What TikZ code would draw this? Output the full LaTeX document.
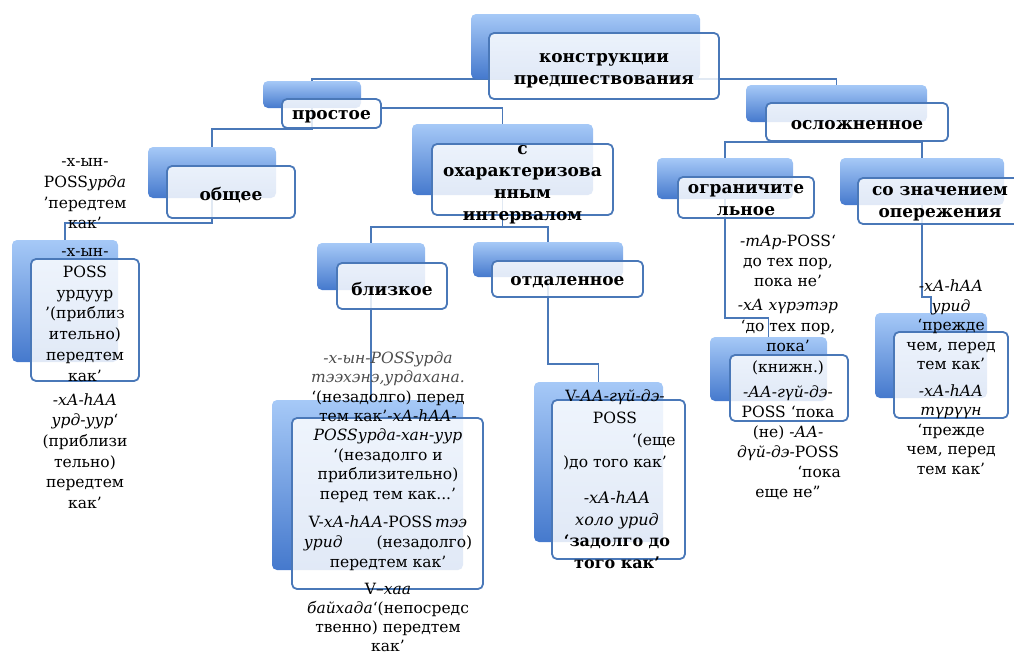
\documentclass[tikz,border=0pt]{standalone}
\usepackage{fontspec}
\setmainfont{DejaVu Serif}
\usetikzlibrary{calc}
\definecolor{boxtop}{HTML}{A6C9F7}
\definecolor{boxbot}{HTML}{4579CD}
\definecolor{boxline}{HTML}{4A78B8}
\pgfdeclarelayer{bg}
\pgfsetlayers{bg,main}
\tikzset{
 backbox/.style={rounded corners=5pt, top color=boxtop, bottom color=boxbot, draw=none, inner sep=0pt},
 frontbox/.style={rounded corners=5pt, draw=boxline, line width=1.8pt, fill=white, fill opacity=0.84, text opacity=1, inner sep=0pt},
 conn/.style={draw=boxline, line width=1.8pt},
 head/.style={font=\fontsize{17}{22}\selectfont\bfseries, align=center, inner sep=0pt, yshift=-3pt},
 note/.style={font=\fontsize{15.5}{20}\selectfont, align=center, inner sep=0pt},
}

\begin{document}
\begin{tikzpicture}[x=1pt,y=-1pt]
\useasboundingbox (0,0) rectangle (1014,653);

% back boxes
\foreach \n/\x/\y/\w/\h in {root/585.5/46.5/229/65, prost/312/94.5/98/27, osl/836.5/103.5/181/37,
 obsch/212/172.5/128/51, soh/502.5/159.5/181/71, org/725/178.5/136/41, znc/922/181.5/164/47,
 bliz/371/266.5/108/47, otd/548/259.5/150/35, obschc/65/301/106/122, blizc/367.5/485/191/170,
 otdc/598.5/462/129/160, orgc/768.5/369/117/64, zncc/931/355.5/112/85}{
\node[backbox, minimum width=\w pt, minimum height=\h pt] (b\n) at (\x,\y) {};}

% front boxes
\foreach \n/\x/\y/\w/\h in {root/604/66/230/66, prost/331.5/113.5/99/29, osl/857/122/182/38,
 obsch/231/192/128/52, soh/522.5/179.5/181/71, org/746/197.5/136/41, znc/940/201/164/46,
 bliz/392/286/110/46, otd/567.5/279/151/36, obschc/85/320/108/122, blizc/387.5/503.5/191/171,
 otdc/618.5/479.5/133/159, orgc/789/388/118/66, zncc/951/375/114/86}{
\node[frontbox, minimum width=\w pt, minimum height=\h pt] (f\n) at (\x,\y) {};}

% headings
\node[head, yshift=-2pt] (troot) at (froot) {конструкции\\предшествования};
\node[head] (tprost) at (fprost) {простое};
\node[head] (tosl) at (fosl) {осложненное};
\node[head] (tobsch) at (fobsch) {общее};
\node[head, yshift=-2pt] (tsoh) at (fsoh) {с\\охарактеризова\\нным\\интервалом};
\node[head] (torg) at (forg) {ограничите\\льное};
\node[head] (tznc) at (fznc) {со значением\\опережения};
\node[head] (tbliz) at (fbliz) {близкое};
\node[head] (totd) at (fotd) {отдаленное};

% texts
\node[note, font=\fontsize{15.5}{20.7}\selectfont] (nobsch) at (85,194) {-х-ын-\\POSS\textit{урда}\\'передтем\\как'};
\node[note, font=\fontsize{15.5}{20.7}\selectfont] (nobschc) at (85,315) {-х-ын-\\POSS\\урдуур\\'(приблиз\\ительно)\\передтем\\как'};
\node[note, font=\fontsize{15.5}{20.7}\selectfont] (nobschd) at (85,451) {\textit{-хА-һАА}\\\textit{урд-уур}‘\\(приблизи\\тельно)\\передтем\\как’};

\node[note, font=\fontsize{15.5}{19.4}\selectfont] (nbliza) at (388,427) {\textcolor{black!70}{\textit{-х-ын-POSSурда}}\\
 \textcolor{black!70}{\textit{тээхэнэ,урдахана.}}\\‘(незадолго) перед\\тем как’\textit{-хА-һАА-}\\
 \textit{POSSурда-хан-уур}\\‘(незадолго и\\приблизительно)\\перед тем как...’};
\node[note] (nblizb) at (388,543) {V-\textit{хА-һАА}-POSS\,\textit{тээ}\\\textit{урид}\hspace{2.2em}(незадолго)\\передтем как’};
\node[note, font=\fontsize{15.5}{19}\selectfont] (nblizc) at (388,617) {V–\textit{хаа}\\\textit{байхада}‘(непосредс\\твенно) передтем\\как’};

\node[note, font=\fontsize{15.5}{22}\selectfont] (notda) at (615,430) {V-\textit{АА-гүй-дэ-}\\POSS\\\hspace*{5em}‘(еще\\)до того как’};
\node[note, font=\fontsize{16}{21.7}\selectfont] (notdb) at (617,530) {\textit{-хА-һАА}\\\textit{холо урид}\\\textbf{‘задолго до}\\\textbf{того как’}};

\node[note] (norga) at (788,261) {\textit{-тАр-}POSS‘\\до тех пор,\\пока не’};
\node[note, font=\fontsize{15.5}{20.7}\selectfont] (norgb) at (788,337) {\textit{-хА хүрэтэр}\\‘до тех пор,\\пока’\\(книжн.)};
\node[note] (norgc) at (788,443) {\textit{-АА-гүй-дэ-}\\POSS ‘пока\\(не) \textit{-АА-}\\\textit{дүй-дэ-}POSS\\\hspace*{4em}‘пока\\еще не”};

\node[note, font=\fontsize{15.5}{19.5}\selectfont] (nznca) at (951,325) {\textit{-хА-һАА}\\\textit{урид}\\‘прежде\\чем, перед\\тем как’};
\node[note, font=\fontsize{15.5}{19.5}\selectfont] (nzncb) at (951,429.5) {\textit{-хА-һАА}\\\textit{түрүүн}\\‘прежде\\чем, перед\\тем как’};

% connectors
\coordinate (jobsch) at (212,223);
\coordinate (jsoh) at (502.5,227);
\coordinate (jotd) at (548,364);
\coordinate (jorg) at (725,318);
\coordinate (jznc) at (922,297);
\begin{pgfonlayer}{bg}
\draw[conn] (bprost.north) |- (broot.south) -| (bosl.north);
\draw[conn] (bprost.center) -- (bprost.center |- fprost.south) -| (bobsch.north);
\draw[conn] (fprost.east |- bprost.south) -| (bsoh.north);
\draw[conn] (bobsch.center) -- (jobsch) -| (bobschc.north);
\draw[conn] (bsoh.south) -- (jsoh);
\draw[conn] (bbliz.north) |- (jsoh) -| (botd.north);
\draw[conn] (bbliz.south) -- (bbliz.south |- bblizc.north);
\draw[conn] (botd.south) -- (jotd) -| (botdc.north);
\draw[conn] (borg.north) |- (fosl.south) -| (bznc.north);
\draw[conn] (borg.south) -- (jorg) -| (borgc.north);
\draw[conn] (bznc.south) -- (jznc) -| (bzncc.north);
\end{pgfonlayer}
\end{tikzpicture}
\end{document}
